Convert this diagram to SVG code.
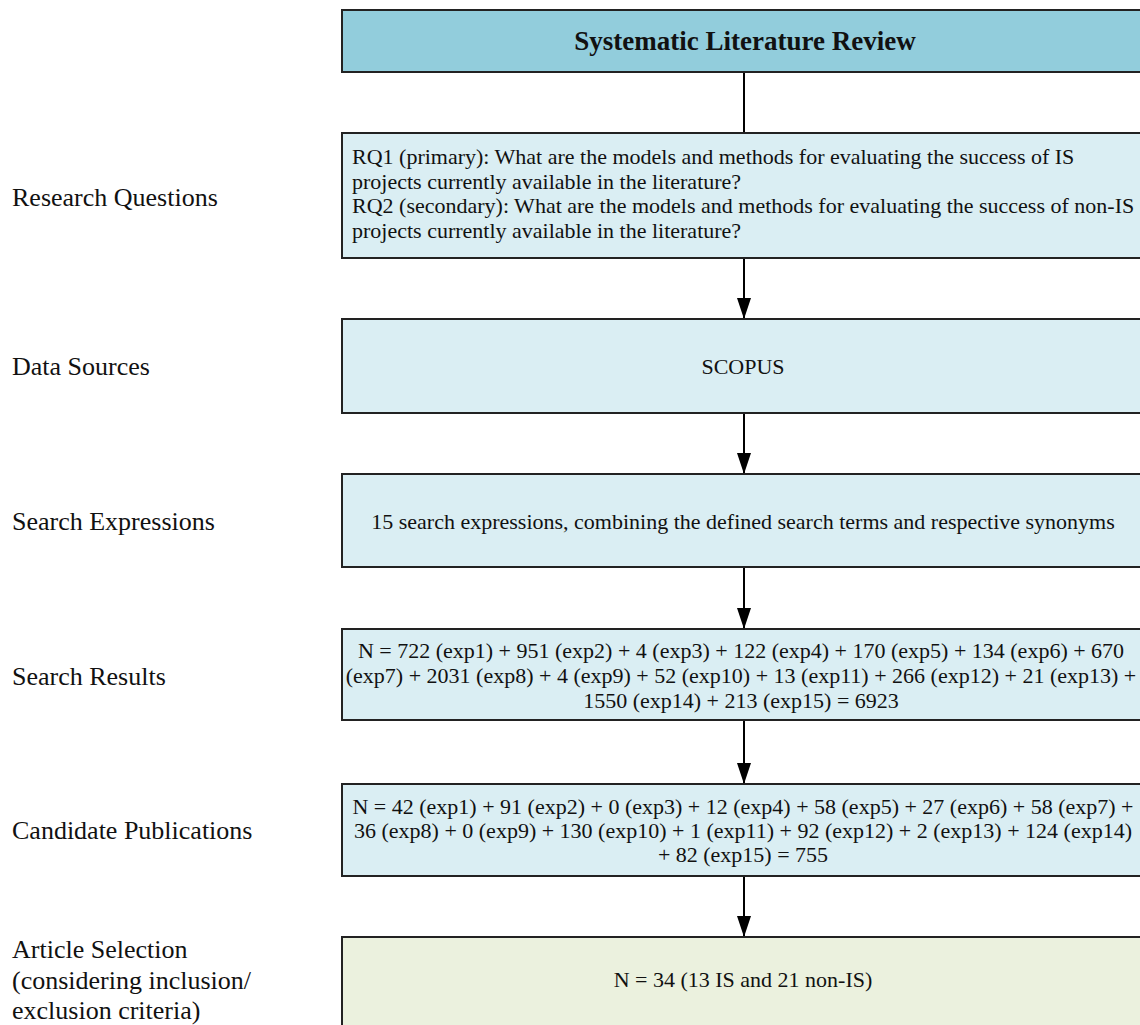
<svg xmlns="http://www.w3.org/2000/svg" width="1140" height="1025" viewBox="0 0 1140 1025">
<defs>
<marker id="ah" markerWidth="21" markerHeight="14" refX="21" refY="7" orient="auto" markerUnits="userSpaceOnUse" viewBox="0 0 21 14">
<path d="M0,0 L21,7 L0,14 Z" fill="#000"/>
</marker>
<style>
.box{stroke:#222;stroke-width:2}
.hdr{fill:#92CDDC}
.lb{fill:#DAEEF3}
.gr{fill:#EBF1DE}
.t{font-family:"Liberation Serif","Times New Roman",serif;font-size:22px;fill:#111}
.ttl{font-family:"Liberation Serif","Times New Roman",serif;font-size:27px;font-weight:bold;fill:#111}
.lab{font-family:"Liberation Serif","Times New Roman",serif;font-size:26px;fill:#111}
.c{text-anchor:middle}
.conn{stroke:#000;stroke-width:2;fill:none}
</style>
</defs>
<rect width="1140" height="1025" fill="#fff"/>
<g id="labels">
<text class="lab" x="12" y="206">Research Questions</text>
<text class="lab" x="12" y="375">Data Sources</text>
<text class="lab" x="12" y="530">Search Expressions</text>
<text class="lab" x="12" y="685">Search Results</text>
<text class="lab" x="12" y="839">Candidate Publications</text>
<text class="lab" x="12" y="958">Article Selection</text>
<text class="lab" x="12" y="989">(considering inclusion/</text>
<text class="lab" x="12" y="1019">exclusion criteria)</text>
</g>
<g id="connectors">
<line class="conn" x1="744" y1="72" x2="744" y2="133"/>
<line class="conn" x1="744" y1="258" x2="744" y2="319" marker-end="url(#ah)"/>
<line class="conn" x1="744" y1="413" x2="744" y2="474" marker-end="url(#ah)"/>
<line class="conn" x1="744" y1="567" x2="744" y2="629" marker-end="url(#ah)"/>
<line class="conn" x1="744" y1="720" x2="744" y2="784" marker-end="url(#ah)"/>
<line class="conn" x1="744" y1="876" x2="744" y2="937" marker-end="url(#ah)"/>
</g>
<g id="n-slr">
<rect class="box hdr" x="342" y="10" width="810" height="62"/>
<text class="ttl c" x="745" y="50">Systematic Literature Review</text>
</g>
<g id="n-rq">
<rect class="box lb" x="342" y="133" width="810" height="125"/>
<text class="t" x="352" y="164">RQ1 (primary): What are the models and methods for evaluating the success of IS</text>
<text class="t" x="352" y="189">projects currently available in the literature?</text>
<text class="t" x="352" y="213">RQ2 (secondary): What are the models and methods for evaluating the success of non-IS</text>
<text class="t" x="352" y="238">projects currently available in the literature?</text>
</g>
<g id="n-ds">
<rect class="box lb" x="342" y="319" width="810" height="94"/>
<text class="t c" x="743" y="374">SCOPUS</text>
</g>
<g id="n-se">
<rect class="box lb" x="342" y="474" width="810" height="93"/>
<text class="t c" x="743" y="529">15 search expressions, combining the defined search terms and respective synonyms</text>
</g>
<g id="n-sr">
<rect class="box lb" x="342" y="629" width="810" height="91"/>
<text class="t c" x="741" y="658">N = 722 (exp1) + 951 (exp2) + 4 (exp3) + 122 (exp4) + 170 (exp5) + 134 (exp6) + 670</text>
<text class="t c" x="741" y="683">(exp7) + 2031 (exp8) + 4 (exp9) + 52 (exp10) + 13 (exp11) + 266 (exp12) + 21 (exp13) +</text>
<text class="t c" x="741" y="708">1550 (exp14) + 213 (exp15) = 6923</text>
</g>
<g id="n-cp">
<rect class="box lb" x="342" y="784" width="810" height="92"/>
<text class="t c" x="743" y="814">N = 42 (exp1) + 91 (exp2) + 0 (exp3) + 12 (exp4) + 58 (exp5) + 27 (exp6) + 58 (exp7) +</text>
<text class="t c" x="743" y="838">36 (exp8) + 0 (exp9) + 130 (exp10) + 1 (exp11) + 92 (exp12) + 2 (exp13) + 124 (exp14)</text>
<text class="t c" x="743" y="862">+ 82 (exp15) = 755</text>
</g>
<g id="n-as">
<rect class="box gr" x="342" y="937" width="810" height="100"/>
<text class="t c" x="743" y="987">N = 34 (13 IS and 21 non-IS)</text>
</g>
</svg>
